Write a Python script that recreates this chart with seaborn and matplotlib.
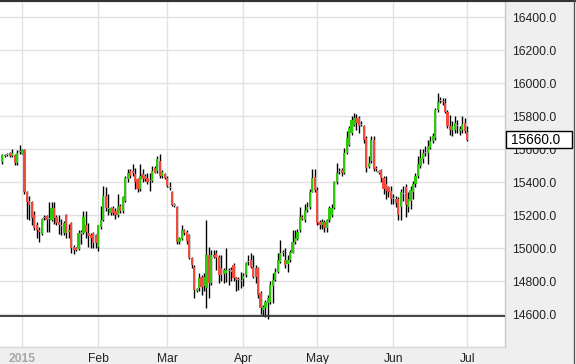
import numpy as np
import pandas as pd
import seaborn as sns
import matplotlib.pyplot as plt
import matplotlib.transforms as mtransforms
from matplotlib.patches import Rectangle
from matplotlib.lines import Line2D

# daily candles, last one on 1 Jul 2015
last_day = '2015-07-01'

opens = [
    15524, 15560, 15572, 15580, 15562, 15567, 15518, 15585, 15575, 15595,
    15345, 15290, 15280, 15200, 15140, 15115, 15090, 15185, 15195,
    15180, 15175, 15245, 15190, 15160, 15140, 15095, 15205, 15100, 15155,
    15010, 15000, 14995, 15090, 15095, 15140, 15095, 15080, 15095, 15080,
    15010, 15130, 15175, 15320, 15245, 15215, 15245, 15230, 15205, 15260,
    15230, 15290, 15420, 15470, 15470, 15450, 15420, 15360, 15450, 15440,
    15430, 15410, 15410, 15490, 15470, 15530, 15440, 15450,
    15430, 15370, 15340, 15265, 15250, 15040, 15060, 15110, 15100, 15080,
    14945, 14890, 14745, 14760, 14825, 14775, 14760, 14960, 14790, 14960, 14975,
    14950, 14880, 14845, 14850, 14870, 14865, 14900, 14825,
    14815, 14800, 14815, 14840, 14920, 14930, 14890, 14880, 14880, 14730,
    14625, 14640, 14670, 14675, 14770, 14810, 14860, 14920, 14975, 14930,
    14905, 14930, 14975, 15040, 15060, 15110, 15190, 15175, 15235, 15250,
    15345, 15435, 15355, 15160, 15140, 15160, 15125, 15170, 15200, 15245,
    15400, 15470, 15475, 15460, 15580, 15630, 15700, 15750, 15790, 15790,
    15755, 15740, 15670, 15495, 15530, 15660, 15490, 15465, 15475, 15430,
    15390, 15370, 15350, 15305, 15300, 15300, 15250, 15330, 15370, 15250,
    15290, 15340, 15390, 15440, 15500, 15540, 15580, 15580, 15610, 15650,
    15670, 15840, 15900, 15895, 15880, 15830, 15740, 15720, 15720, 15745,
    15710, 15720, 15760, 15705,
]
highs = [
    15575, 15575, 15580, 15585, 15600, 15575, 15597, 15627, 15605, 15600,
    15350, 15320, 15290, 15230, 15160, 15130, 15185, 15200, 15200,
    15280, 15280, 15280, 15200, 15200, 15180, 15165, 15210, 15150, 15160,
    15020, 15010, 15110, 15110, 15225, 15230, 15155, 15095, 15100, 15090,
    15145, 15260, 15380, 15370, 15330, 15250, 15255, 15245, 15330, 15270,
    15320, 15440, 15480, 15480, 15510, 15490, 15430, 15510, 15480, 15450,
    15460, 15460, 15500, 15500, 15560, 15570, 15475, 15460,
    15440, 15400, 15350, 15275, 15260, 15070, 15140, 15120, 15110, 15090,
    14950, 14900, 14760, 14850, 14840, 14850, 15170, 15010, 14990, 14990, 14990,
    14960, 14960, 14880, 15000, 14880, 14890, 14910, 14830,
    14830, 14860, 14850, 14920, 14960, 14970, 14960, 14900, 14890, 14740,
    14660, 14690, 14720, 14800, 14850, 14880, 14970, 15050, 14990, 15000,
    14960, 14990, 15110, 15110, 15120, 15250, 15200, 15270, 15280, 15360,
    15480, 15480, 15370, 15170, 15180, 15170, 15180, 15260, 15270, 15410,
    15520, 15490, 15490, 15610, 15710, 15740, 15800, 15820, 15815, 15800,
    15770, 15750, 15680, 15560, 15680, 15680, 15500, 15475, 15480, 15440,
    15440, 15380, 15380, 15330, 15320, 15310, 15360, 15380, 15390, 15340,
    15380, 15410, 15460, 15560, 15600, 15600, 15620, 15660, 15680, 15700,
    15850, 15940, 15920, 15915, 15910, 15840, 15810, 15770, 15800, 15780,
    15740, 15800, 15790, 15740,
]
lows = [
    15515, 15555, 15560, 15555, 15555, 15506, 15506, 15575, 15570, 15330,
    15180, 15175, 15145, 15110, 15065, 15040, 15080, 15175, 15100,
    15100, 15165, 15150, 15140, 15090, 15080, 15080, 15065, 15065, 14975,
    14965, 14985, 14990, 15030, 15085, 15065, 15010, 15005, 15005, 15000,
    14985, 15120, 15165, 15230, 15200, 15205, 15200, 15180, 15190, 15215,
    15215, 15280, 15400, 15430, 15440, 15360, 15340, 15350, 15400, 15410,
    15390, 15350, 15400, 15455, 15460, 15430, 15430, 15420,
    15370, 15355, 15255, 15250, 15030, 15030, 15050, 15080, 15030, 14935,
    14880, 14700, 14735, 14740, 14720, 14740, 14640, 14700, 14780, 14940, 14870,
    14790, 14800, 14790, 14795, 14780, 14800, 14800, 14740,
    14750, 14760, 14770, 14830, 14900, 14880, 14820, 14790, 14700, 14600,
    14590, 14585, 14575, 14665, 14670, 14800, 14850, 14910, 14955, 14880,
    14860, 14920, 14970, 15030, 15050, 15100, 15170, 15160, 15220, 15240,
    15340, 15340, 15140, 15120, 15120, 15100, 15100, 15160, 15190, 15240,
    15390, 15450, 15440, 15450, 15570, 15620, 15690, 15740, 15720, 15700,
    15740, 15640, 15465, 15490, 15520, 15470, 15470, 15450, 15400, 15330,
    15300, 15310, 15270, 15270, 15250, 15175, 15170, 15290, 15190, 15220,
    15240, 15300, 15370, 15430, 15490, 15520, 15560, 15510, 15600, 15640,
    15660, 15830, 15880, 15870, 15820, 15730, 15690, 15680, 15700, 15700,
    15690, 15700, 15700, 15650,
]
closes = [
    15567, 15567, 15568, 15562, 15580, 15518, 15580, 15590, 15595, 15340,
    15282, 15265, 15185, 15125, 15110, 15100, 15180, 15190, 15170,
    15185, 15245, 15185, 15155, 15140, 15135, 15155, 15095, 15110, 15005,
    14990, 14990, 15095, 15095, 15190, 15100, 15075, 15065, 15035, 15035,
    15140, 15175, 15320, 15245, 15240, 15245, 15215, 15205, 15260, 15230,
    15310, 15430, 15460, 15440, 15460, 15400, 15360, 15440, 15420, 15420,
    15405, 15415, 15470, 15460, 15540, 15440, 15465, 15430,
    15380, 15365, 15265, 15260, 15040, 15065, 15110, 15095, 15045, 14945,
    14900, 14750, 14755, 14820, 14765, 14830, 14960, 14790, 14960, 14950, 14945,
    14840, 14840, 14870, 14870, 14865, 14860, 14820, 14810,
    14810, 14805, 14835, 14910, 14925, 14890, 14830, 14830, 14720, 14640,
    14645, 14675, 14700, 14780, 14810, 14860, 14930, 14975, 14970, 14900,
    14930, 14980, 15040, 15065, 15100, 15190, 15180, 15235, 15250, 15345,
    15430, 15355, 15155, 15145, 15160, 15125, 15170, 15245, 15245, 15400,
    15460, 15465, 15460, 15580, 15670, 15730, 15780, 15790, 15760, 15745,
    15750, 15660, 15490, 15520, 15660, 15480, 15480, 15460, 15430, 15360,
    15350, 15340, 15300, 15300, 15275, 15200, 15340, 15335, 15265, 15300,
    15355, 15390, 15440, 15510, 15550, 15580, 15585, 15620, 15650, 15680,
    15840, 15890, 15895, 15885, 15830, 15740, 15720, 15740, 15760, 15740,
    15725, 15755, 15710, 15660,
]

y_ticks = [14600, 14800, 15000, 15200, 15400, 15600, 15800, 16000, 16200, 16400]
support_level = 14590

UP = '#30c80a'
DOWN = '#f04b3c'
FLAT = '#9a9a9a'
PANEL = '#efefef'

sns.set_theme(style='white')
plt.rcParams['font.family'] = ['Liberation Sans', 'DejaVu Sans']

df = pd.DataFrame({
    'date': pd.date_range(end=last_day, periods=len(closes), freq='D'),
    'open': opens, 'high': highs, 'low': lows, 'close': closes,
})
df['high'] = df[['open', 'high', 'close']].max(axis=1)
df['low'] = df[['open', 'low', 'close']].min(axis=1)
diff = df['close'] - df['open']
df['color'] = np.where(diff.abs() <= 5, FLAT, np.where(diff > 0, UP, DOWN))
df['bottom'] = df[['open', 'close']].min(axis=1)
df['body'] = diff.abs().clip(lower=7)

fig = plt.figure(figsize=(5.76, 3.64), dpi=100, facecolor=PANEL)
ax = fig.add_axes([0, 17 / 364, 505 / 576, 346 / 364])
ax.set_facecolor('white')

ax.vlines(df['date'], df['low'], df['high'], color='black', lw=1, zorder=2)
ax.bar(df['date'], df['body'], bottom=df['bottom'], width=0.9,
       color=df['color'], linewidth=0, zorder=3)
ax.axhline(support_level, color='#333333', lw=1.3, zorder=4)

jan1 = pd.Timestamp('2015-01-01')
ax.set_xlim(jan1 - pd.Timedelta(days=8.95), jan1 + pd.Timedelta(days=196.4))
ax.set_ylim(14403, 16500)

months = pd.date_range('2015-01-01', last_day, freq='MS')
month_labels = [str(d.year) if d.month == 1 else d.strftime('%b') for d in months]
ax.set_xticks(months, month_labels)
ax.set_yticks(y_ticks, [f'{v:.1f}' for v in y_ticks])
ax.yaxis.tick_right()
ax.grid(True, color='#e2e2e2', lw=1, zorder=0)
ax.set_axisbelow(True)
ax.tick_params(axis='y', length=0, pad=5, labelsize=8.7, labelcolor='#222222')
ax.tick_params(axis='x', length=0, pad=4, labelsize=8.7, labelcolor='#222222')
first = ax.get_xticklabels()[0]
first.set_color('#a8a8a8')
first.set_fontweight('bold')

ax.spines['left'].set_visible(False)
ax.spines['top'].set_color('#333333')
ax.spines['top'].set_linewidth(1.5)
ax.spines['right'].set_color('#c8c8c8')
ax.spines['right'].set_linewidth(1)
ax.spines['bottom'].set_color('#d6d6d6')
ax.spines['bottom'].set_linewidth(1)

# last price marker in the right panel, drawn over the tick label below it
last = df['close'].iloc[-1]
blend = mtransforms.blended_transform_factory(ax.transAxes, ax.transData)
ax.add_patch(Rectangle((1.0015, last - 52), 0.131, 104, transform=blend,
                       facecolor='white', edgecolor='black', lw=1,
                       clip_on=False, zorder=6))
ax.text(1.0 + 6 / 505, last, f'{last:.1f}', transform=blend, va='center',
        ha='left', fontsize=9.8, color='black', zorder=7)

# outer frame
fig.add_artist(Line2D([0, 1], [0.998, 0.998], color='#333333', lw=1.5))
fig.add_artist(Line2D([573.5 / 576] * 2, [0, 1], color='#555555', lw=1))
fig.add_artist(Rectangle((574 / 576, 0), 2 / 576, 1, color='white'))

fig.savefig('out.png', dpi=100, facecolor=fig.get_facecolor())
